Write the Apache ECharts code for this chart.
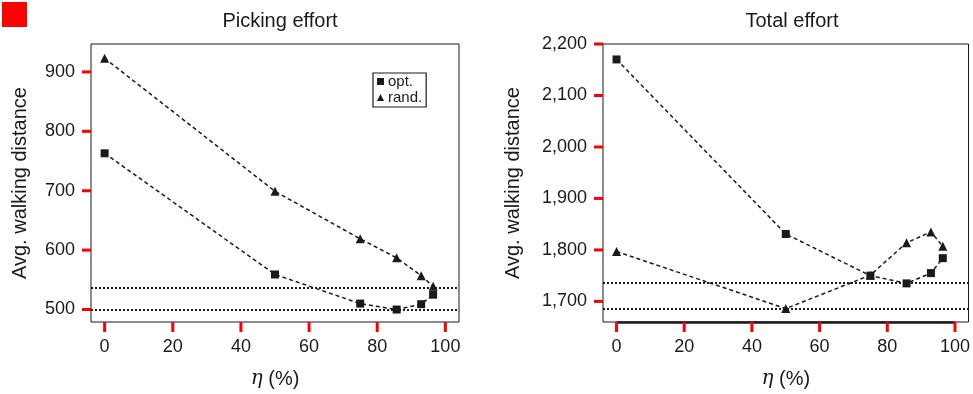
<!DOCTYPE html>
<html>
<head>
<meta charset="utf-8">
<script src="https://cdn.jsdelivr.net/npm/echarts@6/dist/echarts.min.js"></script>
<style>
  html, body { margin: 0; padding: 0; background: #fff; }
  #chart { width: 973px; height: 394px; }
</style>
</head>
<body>
<div id="chart"></div>
<script>
// eta (%) values shared by both panels
const eta = [0, 50, 75, 85.7, 92.9, 96.4];

// picking effort
const pickOpt = [763, 559, 510, 500, 509, 525];
const pickRand = [923, 699, 619, 587, 557, 539];
const pickRefLines = [537.5, 499.5];

// total effort
const totalOpt = [2170, 1831, 1750, 1735, 1755, 1784];
const totalRand = [1797, 1686, 1751, 1814, 1835, 1807];
const totalRefLines = [1735.5, 1686];

const xTicks = [0, 20, 40, 60, 80, 100];
const yTicksPick = [500, 600, 700, 800, 900];
const yTicksTotal = [1700, 1800, 1900, 2000, 2100, 2200];

const ink = '#1a1a1a';
const font = 'Liberation Sans, Arial, Helvetica, sans-serif';
const X_MIN = -4, X_MAX = 104;
const Y_RANGE = [[479, 947], [1660, 2200]];

const pairs = (xs, ys) => xs.map((x, i) => [x, ys[i]]);

const chart = echarts.init(document.getElementById('chart'));

function xAxisFor(gridIndex) {
  return {
    type: 'value',
    gridIndex,
    min: X_MIN,
    max: X_MAX,
    splitLine: { show: false },
    axisLine: { show: false, onZero: false },
    axisTick: { show: false },
    axisLabel: {
      customValues: xTicks,
      margin: 16,
      color: ink, fontSize: 18, fontFamily: font
    },
    name: '{i|η} (%)',
    nameLocation: 'middle',
    nameGap: 47,
    nameTextStyle: {
      color: ink, fontSize: 20, fontFamily: font,
      rich: { i: { fontStyle: 'italic', fontSize: 20, fontFamily: 'DejaVu Serif, serif', color: ink } }
    }
  };
}

function yAxisFor(gridIndex, ticks, gap) {
  return {
    type: 'value',
    gridIndex,
    min: Y_RANGE[gridIndex][0],
    max: Y_RANGE[gridIndex][1],
    splitLine: { show: false },
    axisLine: { show: false, onZero: false },
    axisTick: { show: false },
    axisLabel: {
      customValues: ticks,
      margin: 16,
      color: ink, fontSize: 18, fontFamily: font,
      formatter: v => v.toLocaleString('en-US')
    },
    name: 'Avg. walking distance',
    nameLocation: 'middle',
    nameRotate: 90,
    nameGap: gap,
    nameTextStyle: { color: ink, fontSize: 20, fontFamily: font }
  };
}

function dataSeries(name, symbol, data, idx) {
  return {
    name,
    type: 'line',
    xAxisIndex: idx,
    yAxisIndex: idx,
    data,
    symbol,
    symbolSize: symbol === 'triangle' ? 9 : 8,
    itemStyle: { color: ink },
    lineStyle: { color: ink, width: 1.5, type: [4, 3] },
    z: 3
  };
}

function refLines(values, idx, extra) {
  const data = values.map(v => ({ yAxis: v }));
  return {
    type: 'line',
    xAxisIndex: idx,
    yAxisIndex: idx,
    data: [],
    silent: true,
    markLine: {
      silent: true,
      symbol: 'none',
      label: { show: false },
      animation: false,
      lineStyle: { color: ink, width: 2, type: [2, 2] },
      data: data.concat(extra || [])
    }
  };
}

chart.setOption({
  backgroundColor: '#fff',
  animation: false,
  title: [
    { text: 'Picking effort', left: 275, top: 6, textAlign: 'center',
      textStyle: { color: ink, fontSize: 20, fontWeight: 'normal', fontFamily: font } },
    { text: 'Total effort', left: 787, top: 6, textAlign: 'center',
      textStyle: { color: ink, fontSize: 20, fontWeight: 'normal', fontFamily: font } }
  ],
  legend: {
    left: 373,
    top: 73,
    orient: 'vertical',
    itemWidth: 7,
    itemHeight: 7,
    itemGap: 1,
    padding: [1, 4, 2, 4],
    borderColor: ink,
    borderWidth: 1.2,
    selectedMode: false,
    textStyle: { color: ink, fontSize: 15, fontFamily: font, padding: [0, 0, 0, -1] },
    data: [
      { name: 'opt.', icon: 'rect' },
      { name: 'rand.', icon: 'triangle' }
    ]
  },
  grid: [
    { left: 91, right: 514, top: 44, bottom: 71, show: true, borderColor: ink, borderWidth: 1, backgroundColor: 'transparent' },
    { left: 603, right: 3, top: 44, bottom: 71, show: true, borderColor: ink, borderWidth: 1, backgroundColor: 'transparent' }
  ],
  xAxis: [xAxisFor(0), xAxisFor(1)],
  yAxis: [
    yAxisFor(0, yTicksPick, 61),
    yAxisFor(1, yTicksTotal, 80)
  ],
  series: [
    refLines(pickRefLines, 0),
    refLines(totalRefLines, 1, [[
      { coord: [0, 1660], lineStyle: { type: 'solid', width: 2.5 } },
      { coord: [100, 1660] }
    ]]),
    dataSeries('opt.', 'rect', pairs(eta, pickOpt), 0),
    dataSeries('rand.', 'triangle', pairs(eta, pickRand), 0),
    dataSeries('opt.', 'rect', pairs(eta, totalOpt), 1),
    dataSeries('rand.', 'triangle', pairs(eta, totalRand), 1)
  ]
});

// outward tick marks, positioned with the chart's own axis scales
const tickMarks = [{ type: 'rect', shape: { x: 2, y: 2, width: 25, height: 25 }, style: { fill: 'red' }, z: 100 }];
[yTicksPick, yTicksTotal].forEach((yTicks, g) => {
  const yMin = Y_RANGE[g][0];
  xTicks.forEach(v => {
    const p = chart.convertToPixel({ xAxisIndex: g, yAxisIndex: g }, [v, yMin]);
    tickMarks.push({ type: 'rect', z: 100, silent: true,
      shape: { x: p[0] - 1.5, y: p[1], width: 3, height: 10 },
      style: { fill: 'red' } });
  });
  yTicks.forEach(v => {
    const p = chart.convertToPixel({ xAxisIndex: g, yAxisIndex: g }, [X_MIN, v]);
    tickMarks.push({ type: 'rect', z: 100, silent: true,
      shape: { x: p[0] - 9, y: p[1] - 1.5, width: 9, height: 3 },
      style: { fill: 'red' } });
  });
});
chart.setOption({ graphic: { elements: tickMarks } });
</script>
</body>
</html>
